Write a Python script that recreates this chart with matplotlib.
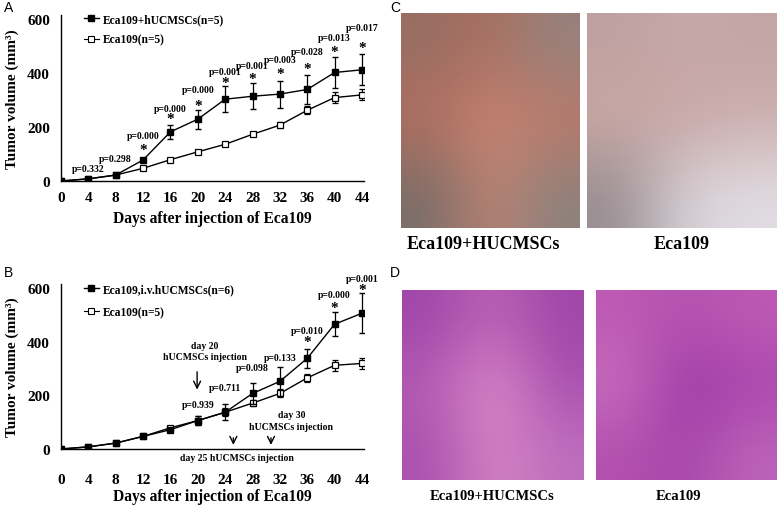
import numpy as np
import matplotlib
matplotlib.use("Agg")
import matplotlib.pyplot as plt
from matplotlib.lines import Line2D

# ---------------- data ----------------
days = [0, 4, 8, 12, 16, 20, 24, 28, 32, 36, 40, 44]

# Panel A
a_treat = [0, 8, 22, 78, 182, 229, 303, 314, 322, 339, 402, 412]
a_treat_err = [0, 2, 3, 5, 25, 35, 48, 49, 50, 55, 56, 57]
a_ctrl = [0, 8, 22, 47, 79, 108, 136, 173, 207, 262, 309, 319]
a_ctrl_err = [0, 2, 3, 3, 4, 5, 6, 8, 12, 15, 20, 20]
a_p_days = [4, 8, 12, 16, 20, 24, 28, 32, 36, 40, 44]
a_p_text = ["p=0.332", "p=0.298", "p=0.000", "p=0.000", "p=0.000", "p=0.001",
            "p=0.001", "p=0.003", "p=0.028", "p=0.013", "p=0.017"]
a_p_y = [46, 83, 167, 270, 338, 405, 429, 449, 479, 532, 567]
a_star_days = [12, 16, 20, 24, 28, 32, 36, 40, 44]
a_star_y = [115, 232, 281, 365, 380, 400, 415, 479, 493]

# Panel B
b_treat = [0, 8, 22, 47, 72, 106, 137, 207, 252, 338, 465, 506]
b_treat_err = [0, 2, 3, 3, 5, 18, 30, 40, 55, 35, 45, 75]
b_ctrl = [0, 8, 22, 47, 79, 106, 137, 171, 207, 265, 312, 319]
b_ctrl_err = [0, 2, 3, 3, 4, 18, 15, 10, 15, 15, 20, 20]
b_p_days = [20, 24, 28, 32, 36, 40, 44]
b_p_text = ["p=0.939", "p=0.711", "p=0.098", "p=0.133", "p=0.010", "p=0.000", "p=0.001"]
b_p_y = [164, 230, 302, 342, 441, 574, 636]
b_star_days = [36, 40, 44]
b_star_y = [401, 528, 596]

tick_days = [0, 4, 8, 12, 16, 20, 24, 28, 32, 36, 40, 44]
tick_vol = [0, 200, 400, 600]

# photo colour impressions (3x3 RGB grids)
c_left = [[(150, 110, 100), (170, 110, 95), (150, 130, 125)],
          [(180, 110, 95), (205, 135, 115), (190, 120, 105)],
          [(120, 110, 105), (190, 130, 115), (140, 130, 125)]]
c_right = [[(190, 160, 160), (200, 170, 170), (195, 165, 165)],
           [(205, 170, 165), (200, 165, 165), (205, 175, 175)],
           [(150, 140, 145), (215, 210, 215), (225, 222, 228)]]
d_left = [[(160, 70, 170), (190, 100, 180), (160, 70, 170)],
          [(180, 90, 180), (225, 145, 205), (170, 80, 175)],
          [(170, 80, 175), (215, 135, 195), (190, 110, 190)]]
d_right = [[(190, 90, 180), (180, 80, 175), (190, 90, 180)],
           [(200, 110, 190), (155, 55, 165), (170, 70, 175)],
           [(180, 80, 175), (165, 70, 170), (190, 100, 185)]]

# ---------------- figure ----------------
W, H = 778, 506
fig = plt.figure(figsize=(W / 100, H / 100), dpi=100)
SERIF = ["Liberation Serif", "DejaVu Serif"]
SANS = ["Liberation Sans", "DejaVu Sans"]


def ax_px(l, t, r, b):
    return fig.add_axes([l / W, 1 - b / H, (r - l) / W, (b - t) / H])


def style_chart(ax, xpad, xlab_y):
    ax.set_xlim(0, 44.3)
    ax.set_ylim(0, 615)
    for s in ["top", "right"]:
        ax.spines[s].set_visible(False)
    ax.spines["left"].set_linewidth(1.0)
    ax.spines["bottom"].set_linewidth(1.0)
    ax.set_xticks(tick_days)
    ax.set_yticks(tick_vol)
    ax.tick_params(length=0, labelsize=11)
    ax.tick_params(axis="x", pad=xpad)
    ax.tick_params(axis="y", pad=8)
    for lab in ax.get_xticklabels() + ax.get_yticklabels():
        lab.set_fontfamily(SERIF)
        lab.set_fontweight("bold")
    ax.set_xlabel("Days after injection of Eca109", fontsize=11.2, fontweight="bold",
                  fontfamily=SERIF, va="center")
    ax.xaxis.set_label_coords(0.5, xlab_y)
    ax.set_ylabel("Tumor volume (mm³)", fontsize=11, fontweight="bold",
                  fontfamily=SERIF, va="center")
    ax.yaxis.set_label_coords((12 - 61) / 303, 0.5)


def plot_series(ax, treat, terr, ctrl, cerr, lab1, lab2):
    ax.errorbar(days, ctrl, yerr=cerr, color="black", lw=1.0, marker="s", ms=4.5,
                mfc="white", mec="black", mew=0.9, capsize=2.5, elinewidth=0.9,
                zorder=3)
    ax.errorbar(days, treat, yerr=terr, color="black", lw=1.0, marker="s", ms=4.5,
                mfc="black", mec="black", capsize=2.5, elinewidth=0.9,
                zorder=4)
    h1 = Line2D([], [], color="black", lw=1.0, marker="s", ms=4, mfc="black")
    h2 = Line2D([], [], color="black", lw=0.8, marker="s", ms=4, mfc="white", mew=0.8)
    return [h1, h2], [lab1, lab2]


def p_labels(ax, pdays, ptext, py, sdays, sy):
    for d, t, y in zip(pdays, ptext, py):
        ax.text(d, y, t, ha="center", va="center", fontsize=7, fontweight="bold",
                fontfamily=SERIF, clip_on=False)
    for d, y in zip(sdays, sy):
        ax.text(d, y, "*", ha="center", va="center", fontsize=11, fontweight="bold",
                fontfamily=SERIF, clip_on=False)


leg_kw = dict(loc="upper left", frameon=False, handlelength=1.3, handletextpad=0.3,
              borderpad=0, borderaxespad=0,
              prop={"family": SERIF, "weight": "bold", "size": 8.3})

# Panel A
axA = ax_px(61, 16, 364, 182)
hA, lA = plot_series(axA, a_treat, a_treat_err, a_ctrl, a_ctrl_err,
                     "Eca109+hUCMSCs(n=5)", "Eca109(n=5)")
style_chart(axA, 7, (182 - 219) / 166)
p_labels(axA, a_p_days, a_p_text, a_p_y, a_star_days, a_star_y)
axA.legend(hA, lA, bbox_to_anchor=(84 / W, 1 - 14 / H), bbox_transform=fig.transFigure,
           labelspacing=0.75, **leg_kw)

# Panel B
axB = ax_px(61, 285, 364, 450)
hB, lB = plot_series(axB, b_treat, b_treat_err, b_ctrl, b_ctrl_err,
                     "Eca109,i.v.hUCMSCs(n=6)", "Eca109(n=5)")
style_chart(axB, 17, (450 - 497) / 165)
p_labels(axB, b_p_days, b_p_text, b_p_y, b_star_days, b_star_y)
axB.legend(hB, lB, bbox_to_anchor=(84 / W, 1 - 284 / H), bbox_transform=fig.transFigure,
           labelspacing=1.0, **leg_kw)

ann_kw = dict(ha="center", va="center", fontsize=7, fontweight="bold",
              fontfamily=SERIF, linespacing=1.4)
arrow_kw = dict(arrowstyle="->,head_width=0.25,head_length=0.5", lw=1.0, color="black")
axB.text(21, 365, "day 20\nhUCMSCs injection", **ann_kw)
axB.annotate("", xy=(19.9, 211), xytext=(19.9, 298), arrowprops=arrow_kw)
axB.text(33.7, 106, "day 30\nhUCMSCs injection", **ann_kw)
axB.annotate("", xy=(25.2, 5), xytext=(25.2, 52), arrowprops=arrow_kw)
axB.annotate("", xy=(30.7, 5), xytext=(30.7, 52), arrowprops=arrow_kw)
axB.text(25.7, -31, "day 25 hUCMSCs injection", clip_on=False, **ann_kw)

# panel letters
for letter, x, y in [("A", 4, 8), ("B", 4, 273), ("C", 390, 8), ("D", 390, 273)]:
    fig.text(x / W, 1 - y / H, letter, ha="left", va="center", fontsize=10,
             fontfamily=SANS)


# photo panels
def photo(l, t, r, b, grid):
    ax = ax_px(l, t, r, b)
    arr = np.array(grid, dtype=float) / 255.0
    ax.imshow(arr, interpolation="bicubic", aspect="auto")
    ax.set_axis_off()
    return ax


photo(401, 14, 579, 229, c_left)
photo(587, 14, 777, 229, c_right)
photo(402, 291, 584, 481, d_left)
photo(596, 291, 777, 481, d_right)

fig.text(483 / W, 1 - 245 / H, "Eca109+HUCMSCs", ha="center", va="center",
         fontsize=13, fontweight="bold", fontfamily=SERIF)
fig.text(682 / W, 1 - 245 / H, "Eca109", ha="center", va="center",
         fontsize=13, fontweight="bold", fontfamily=SERIF)
fig.text(492 / W, 1 - 497 / H, "Eca109+HUCMSCs", ha="center", va="center",
         fontsize=10.5, fontweight="bold", fontfamily=SERIF)
fig.text(678 / W, 1 - 497 / H, "Eca109", ha="center", va="center",
         fontsize=10.5, fontweight="bold", fontfamily=SERIF)

fig.savefig("out.png", dpi=100)
